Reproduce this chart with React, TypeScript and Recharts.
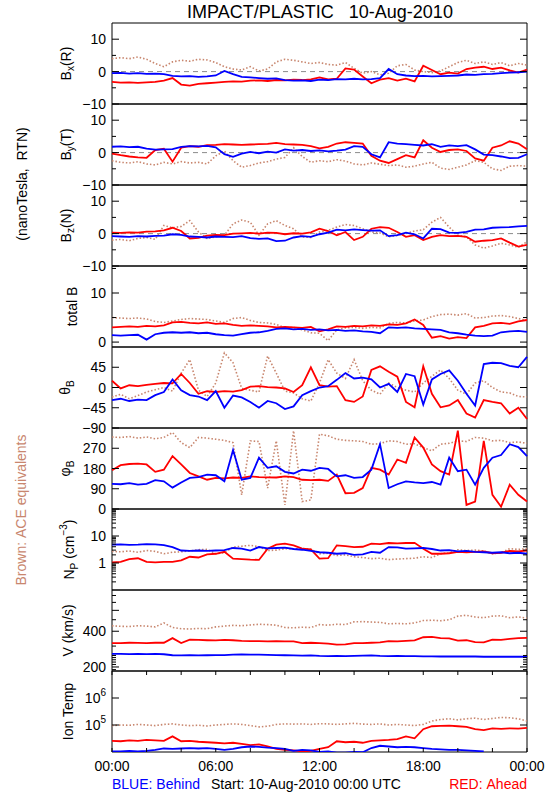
import React from 'react';
import { ComposedChart, Line, XAxis, YAxis, ReferenceArea, ReferenceLine } from 'recharts';

// time axis, hours from 00:00 (every 30 min)
const HOURS = [
  0, 0.5, 1, 1.5, 2, 2.5, 3, 3.5, 4, 4.5,
  5, 5.5, 6, 6.5, 7, 7.5, 8, 8.5, 9, 9.5,
  10, 10.5, 11, 11.5, 12, 12.5, 13, 13.5, 14, 14.5,
  15, 15.5, 16, 16.5, 17, 17.5, 18, 18.5, 19, 19.5,
  20, 20.5, 21, 21.5, 22, 22.5, 23, 23.5, 24,
];
const X_TICKS = [0, 2, 4, 6, 8, 10, 12, 14, 16, 18, 20, 22, 24];
const X_LABEL_HOURS = [0, 6, 12, 18, 24];
const X_LABELS = ['00:00', '06:00', '12:00', '18:00', '00:00'];

// Bx (R)
const bxBlue = [
  -0.5, -0.4, -0.6, -0.5, -0.7, -0.6, -0.8, -1.3, -1.5, -1.4,
  -1.6, -1.5, -1.2, 0.2, -0.8, -1.6, -1.8, -2.0, -2.2, -2.1,
  -2.6, -2.8, -2.7, -2.9, -2.5, -2.6, -2.3, -2.4, -2.2, -2.4,
  -2.3, -2.0, 0.8, -0.8, -1.2, -1.4, -1.3, -1.5, -1.4, -1.3,
  -1.2, -0.9, -1.0, -0.8, -0.7, -0.5, -0.3, -0.2, 0.0,
];
const bxRed = [
  -3.2, -3.4, -3.3, -3.5, -3.3, -3.2, -2.8, -2.0, -4.0, -4.3,
  -3.8, -3.6, -3.4, -3.2, -3.0, -3.1, -2.8, -2.7, -2.9, -2.6,
  -2.7, -2.5, -2.6, -2.4, -1.8, -2.4, -2.2, 1.0, 0.6, -1.5,
  -3.6, -2.5, -2.0, -2.8, -2.2, -3.0, 1.8, 0.5, -0.8, -0.3,
  -0.6, 0.8, 1.2, 1.5, 0.8, 1.2, 0.4, -0.3, 0.6,
];
const bxBrown = [
  4.0, 4.3, 4.0, 4.5, 3.8, 2.5, 1.5, 3.0, 3.5, 3.2,
  3.8, 3.6, 2.8, 1.5, 0.8, 0.5, 1.5, 0.2, 0.8, 3.0,
  3.8, 3.5, 3.0, 2.5, 2.8, 2.2, 2.0, 2.8, 1.0, -0.5,
  0.0, -1.0, -0.5, 1.8, 2.2, 0.5, 0.0, -0.3, 0.2, 1.5,
  2.8, 3.5, 2.5, 3.0, 2.2, 2.8, 1.8, 2.5, 2.0,
];

// By (T)
const byBlue = [
  1.8, 1.9, 1.7, 1.8, 1.2, 0.9, 1.0, 1.1, 1.8, 2.0,
  1.9, 2.1, 1.6, -0.5, -1.3, -0.3, 0.2, -0.2, 0.3, 0.0,
  1.0, 0.6, 0.8, 0.5, 0.7, 0.4, 0.6, 0.9, 2.0, 1.8,
  -0.5, -1.5, 3.2, 2.8, 2.6, 2.4, 2.2, 2.6, 1.8, 2.2,
  2.0, 2.3, 1.0, -0.6, -0.8, -1.2, -1.7, -1.6, -0.5,
];
const byRed = [
  -0.3, -0.8, -1.2, -1.5, -1.6, 0.8, 1.2, -2.8, 1.5, 2.0,
  1.8, 2.3, 2.4, 2.6, 2.5, 2.4, 2.5, 2.6, 2.7, 3.0,
  2.6, 2.5, 2.4, 2.0, 1.3, 1.8, 2.8, 3.2, 3.0, 2.8,
  -1.0, -2.5, -3.2, -2.0, -0.8, -1.5, 3.8, 1.5, 0.2, 0.8,
  1.0, 0.5, -1.8, -2.5, 1.5, 2.2, 3.5, 2.8, 1.0,
];
const byBrown = [
  -2.5, -3.0, -3.2, -2.8, -3.5, -3.8, -3.0, -3.5, -2.8, -3.2,
  -3.0, -3.5, -1.0, 0.5, -2.5, -4.5, -4.0, -3.2, -2.8, -2.0,
  -1.5, 1.5, -1.2, -3.0, -2.5, -2.8, -2.2, -2.6, -3.5, -3.8,
  -3.2, -3.6, -4.0, -3.8, -4.5, -4.2, -3.5, -3.0, -4.8, -5.2,
  -4.5, -3.8, -2.5, -3.0, -5.0, -5.5, -4.2, -4.0, -4.2,
];

// Bz (N)
const bzBlue = [
  -0.8, -0.9, -1.0, -0.8, -0.9, -0.7, -0.6, -0.2, -0.4, -0.9,
  -1.0, -1.2, -0.9, -1.0, -1.1, -0.8, -1.4, -1.6, -1.5, -2.3,
  -2.2, -1.2, -0.8, -1.0, -0.2, 0.3, 1.2, 1.0, 1.3, 1.1,
  0.9, 1.0, -0.8, -0.5, 0.3, -0.2, -1.5, 1.5, 1.4, 0.3,
  0.2, 0.5, 1.2, 1.3, 1.8, 1.9, 2.0, 2.2, 2.4,
];
const bzRed = [
  0.3, 0.2, 0.4, 0.3, 0.6, 0.7, 1.0, 1.8, 0.8, -1.5,
  -1.3, -0.6, -0.4, -0.5, 0.0, 0.1, 0.2, 0.0, 0.3, 0.2,
  -0.2, 0.1, 0.0, 0.4, 1.5, 0.8, -0.5, 0.5, -2.0, -1.0,
  1.5, 2.0, 1.8, 0.5, -1.0, -0.5, -2.0, -1.0, -0.5, -0.8,
  -0.7, -1.0, -2.5, -2.2, -2.0, -1.5, -2.8, -4.0, -3.5,
];
const bzBrown = [
  -2.0, -1.8, -2.2, -1.5, -1.2, -1.8, 2.5, 1.8, 2.2, 4.0,
  0.5, -1.5, -1.0, -0.5, 3.0, 4.2, 3.5, -0.5, 3.0, 4.0,
  2.5, 1.5, -1.0, -1.2, 0.5, 1.0, 2.0, 2.8, 2.5, 1.5,
  0.5, 0.2, -1.0, -0.6, 0.0, 0.8, 1.2, 3.5, 5.0, 2.0,
  -0.5, -1.0, -3.5, -4.5, -3.8, -3.0, -3.5, -4.2, -2.5,
];

// total B
const btBlue = [
  1.4, 1.3, 1.4, 1.5, 0.5, 1.6, 1.9, 2.0, 1.9, 2.0,
  1.8, 1.9, 1.6, 1.4, 1.3, 1.6, 1.9, 2.0, 2.3, 2.7,
  2.8, 2.6, 2.7, 2.5, 2.6, 2.4, 2.5, 2.3, 2.4, 2.2,
  2.1, 1.8, 3.0, 2.9, 3.0, 2.8, 2.7, 2.6, 2.5, 2.0,
  1.8, 1.5, 1.3, 1.2, 1.3, 2.0, 2.2, 2.3, 2.1,
];
const btRed = [
  3.0, 3.1, 3.2, 3.1, 3.3, 3.2, 3.4, 4.0, 4.1, 3.9,
  3.8, 4.0, 3.7, 3.8, 3.5, 3.3, 3.4, 3.3, 3.2, 3.0,
  3.1, 3.0, 2.9, 3.1, 2.2, 2.6, 3.2, 3.1, 3.3, 3.2,
  3.4, 3.3, 3.6, 3.5, 3.8, 4.6, 3.5, 0.9, 1.2, 0.7,
  1.0, 0.8, 3.0, 3.3, 3.8, 3.9, 3.7, 4.2, 4.5,
];
const btBrown = [
  5.0, 4.9, 4.8, 4.9, 4.7, 4.2, 4.0, 4.3, 4.6, 4.8,
  4.7, 4.6, 4.3, 4.0, 4.8, 5.0, 4.4, 4.0, 3.9, 3.6,
  2.9, 3.0, 2.5, 1.9, 1.8, 0.3, 2.5, 2.9, 3.0, 2.8,
  3.0, 2.9, 3.8, 4.0, 3.9, 4.3, 4.5, 5.2, 5.6, 5.7,
  5.5, 5.8, 4.9, 5.0, 5.3, 5.4, 5.2, 4.8, 4.4,
];

// theta B (deg)
const thBlue = [
  -28, -25, -30, -27, -28, -17, -10, 18, -6, -17,
  -20, -28, -8, -45, -18, -22, -32, -45, -30, -35,
  -48, -42, -17, -8, 0, 3, 17, 32, 20, 22,
  18, 0, 8, -10, 30, 25, -38, 18, 30, 38,
  15, -14, -40, 52, 55, 54, 48, 45, 68,
];
const thRed = [
  15, -2, 5, 3, 6, 8, 10, 9, 30, 10,
  -14, -8, -10, -8, -9, -6, 2, 3, 1, 0,
  -2, -10, 5, 45, 5, 2, 3, -28, -32, -20,
  39, 47, 35, 24, -32, -44, 47, -14, -44, -40,
  -28, -58, -67, -28, -32, -35, -58, -45, -70,
];
const thBrown = [
  -21, -15, -25, -18, -10, -5, 0, -8, 32, 62,
  -6, -20, 10, 77, 55, -2, -6, -10, 70, 32,
  -8, -12, -25, -30, 10, 62, 32, 20, 62, 15,
  -6, -15, 10, 0, -6, -10, 10, 25, 39, 20,
  -6, -15, 10, 15, 0, -10, -12, -20, -21,
];

// phi B (deg)
const phBlue = [
  112, 110, 115, 108, 112, 128, 123, 95, 118, 138,
  142, 153, 150, 123, 262, 130, 138, 228, 183, 190,
  165, 158, 175, 170, 183, 178, 145, 150, 138, 142,
  175, 288, 93, 110, 123, 118, 115, 120, 108, 228,
  168, 175, 108, 183, 228, 240, 288, 275, 235,
];
const phRed = [
  172, 195, 200, 202, 198, 165, 175, 235, 198, 160,
  145, 130, 138, 136, 140, 138, 145, 142, 141, 140,
  145, 142, 130, 128, 130, 125, 153, 70, 72, 93,
  183, 175, 153, 220, 205, 318, 273, 198, 168, 153,
  348, 18, 33, 303, 63, 10, 108, 63, 33,
];
const phBrown = [
  320, 318, 322, 315, 320, 312, 318, 340, 295, 273,
  318, 315, 310, 305, 295, 63, 303, 300, 93, 303,
  18, 348, 33, 40, 333, 325, 310, 305, 303, 300,
  288, 290, 303, 300, 288, 290, 273, 258, 288, 292,
  303, 300, 318, 315, 303, 305, 295, 298, 292,
];

// proton density (cm^-3)
const npBlue = [
  4.8, 4.9, 4.7, 4.8, 5.0, 4.9, 4.6, 3.9, 2.9, 2.8,
  2.9, 2.8, 2.9, 3.0, 3.6, 3.4, 2.9, 3.9, 3.5, 3.6,
  3.7, 3.3, 3.1, 2.8, 2.5, 2.4, 2.2, 2.3, 2.0, 2.1,
  2.6, 2.4, 3.9, 3.8, 3.4, 3.5, 3.6, 3.3, 2.9, 3.0,
  2.7, 2.8, 2.6, 2.5, 2.4, 2.5, 2.3, 2.4, 2.2,
];
const npRed = [
  1.05, 1.1, 1.4, 1.5, 1.1, 1.05, 1.1, 1.1, 1.25, 1.7,
  1.6, 2.1, 2.2, 2.6, 1.45, 1.4, 1.33, 1.3, 3.4, 4.8,
  5.2, 4.5, 3.4, 3.2, 1.45, 1.5, 4.5, 4.2, 3.9, 4.0,
  5.2, 5.0, 5.5, 5.3, 5.5, 5.6, 3.4, 2.2, 2.2, 2.3,
  2.6, 2.5, 2.6, 2.7, 2.3, 2.4, 2.8, 2.7, 2.9,
];
const npBrown = [
  2.7, 2.6, 2.8, 2.5, 2.9, 2.7, 2.2, 2.5, 2.6, 2.8,
  3.1, 3.2, 2.2, 2.4, 3.9, 4.2, 4.5, 4.0, 2.9, 3.0,
  3.4, 3.3, 3.5, 3.2, 2.2, 2.3, 1.9, 2.0, 1.7, 1.6,
  1.45, 1.5, 1.33, 1.4, 1.45, 1.5, 1.7, 1.6, 2.2, 2.4,
  3.1, 2.9, 3.0, 2.8, 2.2, 2.4, 3.4, 3.2, 3.4,
];

// bulk speed (km/s)
const vBlue = [
  258, 258, 257, 258, 257, 258, 256, 251, 250, 251,
  250, 251, 252, 252, 254, 255, 254, 254, 253, 252,
  251, 250, 249, 250, 248, 247, 248, 247, 248, 249,
  250, 248, 247, 248, 247, 247, 246, 246, 245, 245,
  245, 245, 245, 244, 244, 244, 244, 244, 244,
];
const vRed = [
  318, 318, 320, 319, 318, 320, 320, 350, 318, 340,
  338, 336, 335, 338, 336, 332, 330, 330, 328, 330,
  329, 328, 318, 320, 318, 315, 308, 310, 318, 318,
  320, 322, 330, 328, 332, 335, 356, 358, 350, 348,
  334, 336, 324, 322, 340, 338, 345, 350, 352,
];
const vBrown = [
  445, 440, 438, 445, 442, 435, 470, 430, 420, 418,
  422, 420, 435, 442, 448, 445, 452, 458, 455, 450,
  430, 428, 432, 430, 455, 450, 458, 455, 480, 482,
  478, 475, 462, 465, 462, 470, 492, 495, 490, 500,
  536, 545, 527, 520, 536, 540, 520, 528, 515,
];

// ion temperature (K)
const tBlue = [
  1.05e4, 1.05e4, 1.1e4, 1.05e4, 1.1e4, 1.2e4, 1.35e4, 1.3e4, 1.35e4, 1.4e4,
  1.35e4, 1.4e4, 1.3e4, 1.2e4, 1.3e4, 1.5e4, 1.6e4, 1.55e4, 1.45e4, 1.4e4,
  1.3e4, 1.1e4, 1.2e4, 1.15e4, 1.0e4, 1.05e4, 9.5e3, 9.5e3, 1.0e4, 9.8e3,
  1.4e4, 1.7e4, 1.6e4, 1.5e4, 1.55e4, 1.5e4, 1.4e4, 1.3e4, 1.25e4, 1.2e4,
  1.2e4, 1.15e4, 1.1e4, 1.05e4, null, null, null, null, null,
];
const tRed = [
  2.6e4, 2.5e4, 2.7e4, 2.6e4, 2.8e4, 2.7e4, 2.6e4, 3.8e4, 2.5e4, 2.6e4,
  2.4e4, 2.3e4, 2.2e4, 2.1e4, 2.2e4, 2.0e4, 1.8e4, 1.9e4, 1.6e4, 1.3e4,
  1.2e4, 1.15e4, 1.05e4, 1.1e4, 1.3e4, 1.5e4, 2.5e4, 2.3e4, 2.4e4, 2.2e4,
  2.6e4, 2.7e4, 2.8e4, 3.0e4, 3.8e4, 3.2e4, 7.0e4, 9.0e4, 9.3e4, 9.5e4,
  9.0e4, 8.5e4, 7.0e4, 6.5e4, 7.5e4, 7.2e4, 7.5e4, 7.3e4, 7.8e4,
];
const tBrown = [
  0.95e5, 1.0e5, 0.98e5, 1.05e5, 1.0e5, 0.95e5, 1.05e5, 1.1e5, 1.0e5, 0.95e5,
  0.98e5, 0.92e5, 1.0e5, 1.05e5, 1.1e5, 1.05e5, 0.95e5, 0.85e5, 0.9e5, 1.05e5,
  1.1e5, 1.08e5, 1.1e5, 1.05e5, 1.12e5, 1.1e5, 1.05e5, 1.1e5, 1.15e5, 1.08e5,
  1.05e5, 1.1e5, 1.0e5, 1.05e5, 1.0e5, 0.95e5, 1.05e5, 1.4e5, 1.6e5, 1.7e5,
  1.55e5, 1.7e5, 1.8e5, 1.6e5, 1.75e5, 1.9e5, 1.85e5, 1.7e5, 1.4e5,
];

// y tick values and labels
const B_TICKS = [-10, -5, 0, 5, 10];
const B_MAJOR = [-10, 0, 10];
const B_LABELS = { '-10': '\u221210', '0': '0', '10': '10' };
const BT_TICKS = [0, 5, 10, 15];
const BT_MAJOR = [0, 10];
const BT_LABELS = { '0': '0', '10': '10' };
const TH_TICKS = [-90, -45, 0, 45];
const TH_LABELS = { '-90': '\u221290', '-45': '\u221245', '0': '0', '45': '45' };
const PH_TICKS = [0, 90, 180, 270];
const PH_LABELS = { '0': '0', '90': '90', '180': '180', '270': '270' };
const NP_TICKS = [
  0.2, 0.3, 0.4, 0.5, 0.6, 0.7, 0.8, 0.9, 1, 2, 3, 4, 5, 6, 7, 8, 9, 10,
  20, 30, 40, 50, 60, 70, 80, 90,
];
const NP_MAJOR = [1, 10];
const NP_LABELS = { '1': '1', '10': '10' };
const V_TICKS = [190, 200, 210, 220, 230, 240, 250, 300, 400, 500, 600, 700, 800];
const V_MAJOR = [200, 400, 600];
const V_LABELS = { '200': '200', '400': '400' };
const T_TICKS = [1e5, 1e6];
const T_LABELS = { '100000': '10^5', '1000000': '10^6' };

const BLUE = '#0000ff';
const RED = '#ff0000';
const BROWN = '#c8866e';
const FONT = '"Liberation Sans", Arial, sans-serif';

const W = 550;
const LEFT = 112;
const RIGHT = 527;
const TOP0 = 23;
const PH = 81;
const PAD = 12;

const PANELS = [
  { blue: bxBlue, red: bxRed, brown: bxBrown, scale: 'linear', domain: [-10, 15], ticks: B_TICKS, majors: B_MAJOR, labels: B_LABELS, zero: true },
  { blue: byBlue, red: byRed, brown: byBrown, scale: 'linear', domain: [-10, 15], ticks: B_TICKS, majors: B_MAJOR, labels: B_LABELS, zero: true },
  { blue: bzBlue, red: bzRed, brown: bzBrown, scale: 'linear', domain: [-10, 15], ticks: B_TICKS, majors: B_MAJOR, labels: B_LABELS, zero: true },
  { blue: btBlue, red: btRed, brown: btBrown, scale: 'linear', domain: [-1, 15.5], ticks: BT_TICKS, majors: BT_MAJOR, labels: BT_LABELS },
  { blue: thBlue, red: thRed, brown: thBrown, scale: 'linear', domain: [-90, 90], ticks: TH_TICKS, majors: TH_TICKS, labels: TH_LABELS },
  { blue: phBlue, red: phRed, brown: phBrown, scale: 'linear', domain: [0, 360], ticks: PH_TICKS, majors: PH_TICKS, labels: PH_LABELS },
  { blue: npBlue, red: npRed, brown: npBrown, scale: 'log', domain: [0.1, 100], ticks: NP_TICKS, majors: NP_MAJOR, labels: NP_LABELS },
  { blue: vBlue, red: vRed, brown: vBrown, scale: 'log', domain: [185, 890], ticks: V_TICKS, majors: V_MAJOR, labels: V_LABELS },
  { blue: tBlue, red: tRed, brown: tBrown, scale: 'log', domain: [1e4, 1e7], ticks: T_TICKS, majors: T_TICKS, labels: T_LABELS },
];

const tickText = (s: string) => {
  const [base, exp] = s.split('^');
  if (!exp) return base;
  return (
    <>
      {base}
      <tspan dy={-7} fontSize={10}>{exp}</tspan>
    </>
  );
};

const YTick = ({ y, payload, majors, labels }: any) => {
  const v = payload.value;
  const len = majors.includes(v) ? 7 : 4;
  const lab = labels[String(v)];
  return (
    <g>
      <line x1={LEFT} x2={LEFT + len} y1={y} y2={y} stroke="#000" />
      <line x1={RIGHT - len} x2={RIGHT} y1={y} y2={y} stroke="#000" />
      {lab && (
        <text x={LEFT - 6} y={y + 5} textAnchor="end" fontSize={14} fontFamily={FONT} fill="#000">
          {tickText(lab)}
        </text>
      )}
    </g>
  );
};

const XTick = ({ x, payload, last }: any) => {
  const bottom = PAD + PH;
  const idx = X_LABEL_HOURS.indexOf(payload.value);
  return (
    <g>
      <line x1={x} x2={x} y1={bottom} y2={bottom - 4} stroke="#000" />
      <line x1={x} x2={x} y1={PAD} y2={PAD + 4} stroke="#000" />
      {last && idx >= 0 && (
        <text x={x} y={bottom + 19} textAnchor="middle" fontSize={14} fontFamily={FONT} fill="#000">
          {X_LABELS[idx]}
        </text>
      )}
    </g>
  );
};

function Panel({ cfg, index, last }: any) {
  const rows = HOURS.map((h, i) => ({ h, blue: cfg.blue[i], red: cfg.red[i], brown: cfg.brown[i] }));
  const extra = last ? 28 : 0;
  const height = PH + 2 * PAD + extra;
  return (
    <div style={{ position: 'absolute', left: 0, top: TOP0 + PH * index - PAD, width: W, height }}>
      <ComposedChart width={W} height={height} data={rows} margin={{ top: PAD, right: W - RIGHT, bottom: PAD, left: 0 }}>
        <XAxis
          dataKey="h"
          type="number"
          domain={[0, 24]}
          ticks={X_TICKS}
          interval={0}
          height={extra}
          tickLine={false}
          axisLine={false}
          tick={(p: any) => <XTick {...p} last={last} />}
        />
        <YAxis
          type="number"
          scale={cfg.scale}
          domain={cfg.domain}
          ticks={cfg.ticks}
          interval={0}
          width={LEFT}
          allowDataOverflow
          tickLine={false}
          axisLine={false}
          tick={(p: any) => <YTick {...p} majors={cfg.majors} labels={cfg.labels} />}
        />
        {cfg.zero && <ReferenceLine y={0} stroke="#8c8c8c" strokeDasharray="5 4" />}
        <Line dataKey="brown" stroke={BROWN} strokeWidth={1.6} strokeDasharray="1.5 2" dot={false} isAnimationActive={false} />
        <Line dataKey="red" stroke={RED} strokeWidth={1.8} dot={false} isAnimationActive={false} />
        <Line dataKey="blue" stroke={BLUE} strokeWidth={1.8} dot={false} isAnimationActive={false} />
        <ReferenceArea x1={0} x2={24} y1={cfg.domain[0]} y2={cfg.domain[1]} fill="none" stroke="#000" strokeWidth={1} />
      </ComposedChart>
    </div>
  );
}

const YLabel = ({ x, cy, children, color = '#000' }: any) => (
  <text transform={`translate(${x},${cy}) rotate(-90)`} textAnchor="middle" fontSize={14} fontFamily={FONT} fill={color}>
    {children}
  </text>
);

const mid = (i: number) => TOP0 + PH * i + PH / 2;

export default function App() {
  return (
    <div style={{ position: 'absolute', left: 0, top: 0, width: W, height: 800, background: '#fff', fontFamily: FONT }}>
      {PANELS.map((cfg, i) => (
        <Panel key={i} cfg={cfg} index={i} last={i === PANELS.length - 1} />
      ))}
      <svg width={W} height={800} style={{ position: 'absolute', left: 0, top: 0, pointerEvents: 'none' }}>
        <text x={320} y={18} textAnchor="middle" fontSize={18} fontFamily={FONT}>
          IMPACT/PLASTIC{'\u00a0\u00a0\u00a0'}10-Aug-2010
        </text>
        <YLabel x={71} cy={mid(0)}>
          B<tspan dy={3} fontSize={10}>x</tspan><tspan dy={-3}>(R)</tspan>
        </YLabel>
        <YLabel x={71} cy={mid(1)}>
          B<tspan dy={3} fontSize={10}>y</tspan><tspan dy={-3}>(T)</tspan>
        </YLabel>
        <YLabel x={71} cy={mid(2)}>
          B<tspan dy={3} fontSize={10}>z</tspan><tspan dy={-3}>(N)</tspan>
        </YLabel>
        <YLabel x={77} cy={mid(3)}>total B</YLabel>
        <YLabel x={70} cy={mid(4)}>
          θ<tspan dy={4} fontSize={10}>B</tspan>
        </YLabel>
        <YLabel x={70} cy={mid(5)}>
          φ<tspan dy={4} fontSize={10}>B</tspan>
        </YLabel>
        <YLabel x={74} cy={mid(6)}>
          N<tspan dy={4} fontSize={10}>P</tspan>
          <tspan dy={-4}>{'\u00a0'}(cm</tspan>
          <tspan dy={-7} fontSize={10}>{'\u22123'}</tspan>
          <tspan dy={7}>)</tspan>
        </YLabel>
        <YLabel x={73} cy={mid(7)}>V{'\u00a0'}(km/s)</YLabel>
        <YLabel x={73} cy={mid(8)}>Ion Temp</YLabel>
        <YLabel x={27} cy={184}>(nanoTesla,{'\u00a0\u00a0'}RTN)</YLabel>
        <YLabel x={26} cy={510} color={BROWN}>Brown:{'\u00a0'}ACE equivalents</YLabel>
        <text x={112} y={789} fontSize={14} fontFamily={FONT} fill={BLUE}>BLUE:{'\u00a0'}Behind</text>
        <text x={211} y={789} fontSize={14} fontFamily={FONT} fill="#000">Start:{'\u00a0'}10-Aug-2010 00:00 UTC</text>
        <text x={527} y={789} textAnchor="end" fontSize={14} fontFamily={FONT} fill={RED}>RED:{'\u00a0'}Ahead</text>
      </svg>
    </div>
  );
}
